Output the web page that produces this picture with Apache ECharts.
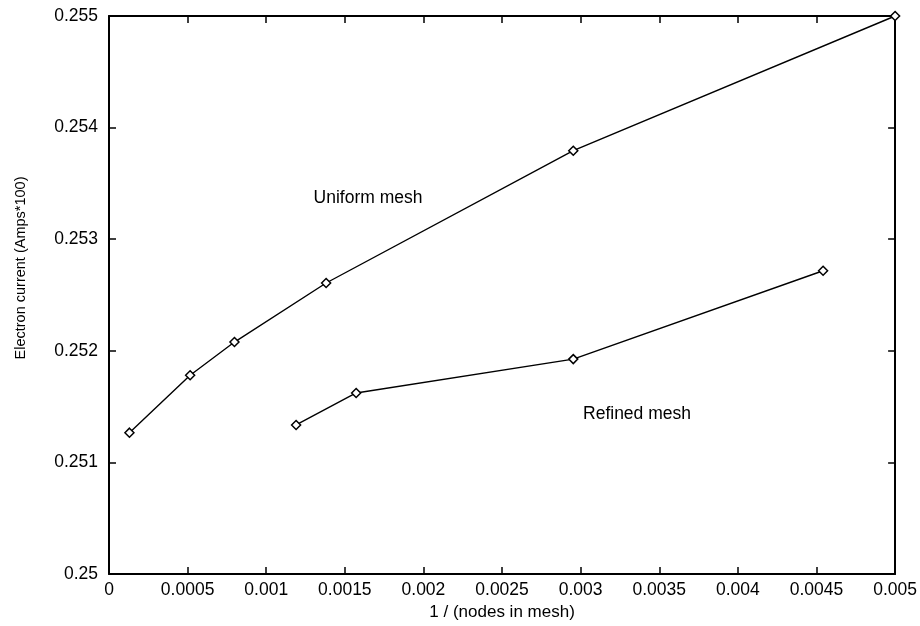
<!DOCTYPE html>
<html>
<head>
<meta charset="utf-8">
<script src="https://cdn.jsdelivr.net/npm/echarts@6/dist/echarts.min.js"></script>
<style>
  html, body { margin: 0; padding: 0; background: #fff; }
  #chart { width: 920px; height: 626px; }
</style>
</head>
<body>
<div id="chart"></div>
<script>
// values
const uniformX = [0.00013, 0.000516, 0.000798, 0.001381, 0.002953, 0.005];
const uniformY = [0.251267, 0.251782, 0.252079, 0.252608, 0.253793, 0.255];
const refinedX = [0.00119, 0.001572, 0.002953, 0.004542];
const refinedY = [0.251336, 0.251623, 0.251926, 0.252718];

const xTitle = '1 / (nodes in mesh)';
const yTitle = 'Electron current (Amps*100)';
const uniformLabel = 'Uniform mesh';
const refinedLabel = 'Refined mesh';

const FONT = '"Liberation Sans", Arial, Helvetica, sans-serif';

function pairs(xs, ys) {
  return xs.map((x, i) => [x, ys[i]]);
}

const chart = echarts.init(document.getElementById('chart'));

const tick = { show: true, inside: true, length: 7, lineStyle: { color: '#000', width: 1.5 } };
const line = { show: true, onZero: false, lineStyle: { color: '#000', width: 2 } };

function lineSeries(name, data) {
  return {
    name: name,
    type: 'line',
    data: data,
    symbol: 'diamond',
    symbolSize: 9,
    showAllSymbol: true,
    lineStyle: { color: '#000', width: 1.4 },
    itemStyle: { color: '#fff', borderColor: '#000', borderWidth: 1.5 },
    emphasis: { disabled: true },
    z: 3
  };
}

const option = {
  animation: false,
  backgroundColor: '#fff',
  grid: { left: 109, right: 24, top: 16, bottom: 47 },
  xAxis: [
    {
      type: 'value',
      min: 0,
      max: 0.005,
      interval: 0.0005,
      position: 'bottom',
      axisLine: line,
      axisTick: tick,
      splitLine: { show: false },
      axisLabel: {
        color: '#000',
        fontFamily: FONT,
        fontSize: 17.5,
        margin: 7,
        formatter: v => String(parseFloat(v.toFixed(4)))
      },
      name: xTitle,
      nameLocation: 'middle',
      nameGap: 29,
      nameTextStyle: { color: '#000', fontFamily: FONT, fontSize: 17 }
    },
    {
      type: 'value',
      min: 0,
      max: 0.005,
      interval: 0.0005,
      position: 'top',
      axisLine: line,
      axisTick: tick,
      axisLabel: { show: false },
      splitLine: { show: false }
    }
  ],
  yAxis: [
    {
      type: 'value',
      min: 0.25,
      max: 0.255,
      interval: 0.001,
      position: 'left',
      axisLine: line,
      axisTick: tick,
      splitLine: { show: false },
      axisLabel: {
        color: '#000',
        fontFamily: FONT,
        fontSize: 17.5,
        margin: 11,
        formatter: v => String(parseFloat(v.toFixed(3)))
      }
    },
    {
      type: 'value',
      min: 0.25,
      max: 0.255,
      interval: 0.001,
      position: 'right',
      axisLine: line,
      axisTick: tick,
      axisLabel: { show: false },
      splitLine: { show: false }
    }
  ],
  series: [
    lineSeries(uniformLabel, pairs(uniformX, uniformY)),
    lineSeries(refinedLabel, pairs(refinedX, refinedY))
  ],
  graphic: [
    {
      type: 'text',
      x: 21,
      y: 268,
      rotation: Math.PI / 2,
      style: {
        text: yTitle,
        fill: '#000',
        font: '14.5px ' + FONT,
        align: 'center',
        verticalAlign: 'middle'
      }
    },
    {
      type: 'text',
      x: 368,
      y: 198,
      style: {
        text: uniformLabel,
        fill: '#000',
        font: '17.5px ' + FONT,
        align: 'center',
        verticalAlign: 'middle'
      }
    },
    {
      type: 'text',
      x: 637,
      y: 414,
      style: {
        text: refinedLabel,
        fill: '#000',
        font: '17.5px ' + FONT,
        align: 'center',
        verticalAlign: 'middle'
      }
    }
  ]
};

chart.setOption(option);
</script>
</body>
</html>
